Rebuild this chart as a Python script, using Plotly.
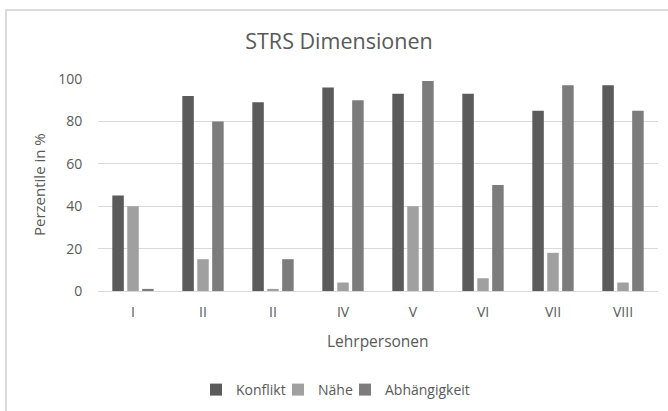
import plotly.graph_objects as go

# Data
categories = ["I", "II", "II", "IV", "V", "VI", "VII", "VIII"]
konflikt = [45, 92, 89, 96, 93, 93, 85, 97]
naehe = [40, 15, 1, 4, 40, 6, 18, 4]
abhaengigkeit = [1, 80, 15, 90, 99, 50, 97, 85]
series_names = ["Konflikt", "Nähe", "Abhängigkeit"]
series_colors = ["#5b5b5b", "#a0a0a0", "#7c7c7c"]

W, H = 668, 411
L, R, T, B = 98, 10, 79, 120
pw, ph = W - L - R, H - T - B

def px_x(x):
    return (x - L) / pw

def px_y(y):
    return (H - B - y) / ph

FONT = "Open Sans"
TXT = "#595959"

legend_ids = ["legend", "legend2", "legend3"]
legend_left_px = [196, 278, 345]

xpos = list(range(len(categories)))
fig = go.Figure()
for name, vals, col, lid in zip(series_names, [konflikt, naehe, abhaengigkeit], series_colors, legend_ids):
    fig.add_trace(go.Bar(x=xpos, y=vals, name=name, legend=lid,
                         marker=dict(color=col, line=dict(width=0))))

legend_common = dict(orientation="h", yanchor="middle", xanchor="left",
                     font=dict(size=14, color=TXT, family=FONT),
                     itemwidth=30, tracegroupgap=0, bgcolor="rgba(0,0,0,0)")
legends = {}
for lid, lx in zip(legend_ids, legend_left_px):
    legends[lid] = dict(legend_common, x=px_x(lx), y=px_y(390))

fig.update_layout(
    width=W, height=H,
    margin=dict(l=L, r=R, t=T, b=B, pad=0, autoexpand=False),
    paper_bgcolor="white", plot_bgcolor="white",
    barmode="group", bargap=0.36, bargroupgap=0.23,
    font=dict(family=FONT, color=TXT, size=14),
    title=dict(text="STRS Dimensionen", xref="container", x=339 / W, xanchor="center",
               yref="container", y=1 - 41.5 / H, yanchor="middle",
               font=dict(size=21.5, color=TXT, family=FONT)),
    showlegend=True,
    xaxis=dict(tickmode="array", tickvals=xpos, ticktext=categories,
               range=[-0.5, len(categories) - 0.5], automargin=False,
               showgrid=False, zeroline=False,
               showline=True, linecolor="#d9d9d9", linewidth=1,
               ticks="outside", ticklen=8, tickcolor="rgba(0,0,0,0)",
               tickfont=dict(size=14, color=TXT)),
    yaxis=dict(range=[0, 100], tickvals=[0, 20, 40, 60, 80, 100], automargin=False,
               showgrid=True, gridcolor="#d9d9d9", gridwidth=1,
               zeroline=False, showline=False,
               ticks="outside", ticklen=12, tickcolor="rgba(0,0,0,0)",
               tickfont=dict(size=14, color=TXT)),
    annotations=[
        dict(text="Perzentile in %", xref="paper", yref="paper",
             x=px_x(39), y=px_y(185), xanchor="center", yanchor="middle",
             textangle=-90, showarrow=False, font=dict(size=15, color=TXT)),
        dict(text="Lehrpersonen", xref="paper", yref="paper",
             x=px_x(378), y=px_y(341), xanchor="center", yanchor="middle",
             showarrow=False, font=dict(size=15.5, color=TXT)),
    ],
    shapes=[
        dict(type="rect", xref="paper", yref="paper",
             x0=px_x(6), x1=px_x(W + 20), y0=px_y(H + 20), y1=px_y(10),
             line=dict(color="#d0d0d0", width=1.5), fillcolor="rgba(0,0,0,0)",
             layer="below"),
    ],
    **legends,
)

fig.write_html(
    "out.html",
    config={"displayModeBar": False},
    post_script="document.body.style.margin='0';document.body.style.overflow='hidden';",
)
